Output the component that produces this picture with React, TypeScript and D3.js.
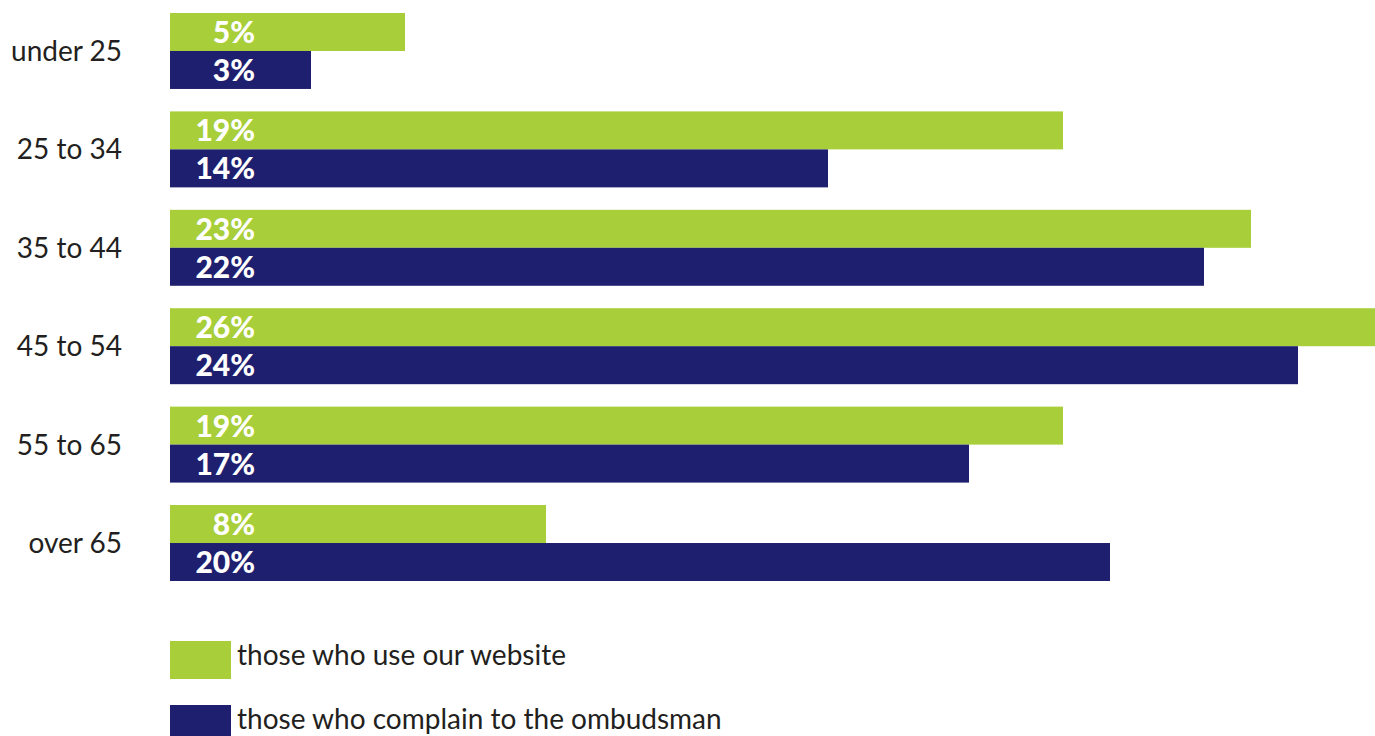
import React from "react";
import * as d3 from "d3";

const categories = ["under 25", "25 to 34", "35 to 44", "45 to 54", "55 to 65", "over 65"];
const websiteValues = [5, 19, 23, 26, 19, 8];
const ombudsmanValues = [3, 14, 22, 24, 17, 20];
const seriesNames = ["those who use our website", "those who complain to the ombudsman"];
const seriesColors = ["#a8ce39", "#1f1f6f"];

const W = 1375;
const H = 736;

export default function App() {
  const y = d3.scaleBand<string>().domain(categories).range([13, 581]).paddingInner(0.228).paddingOuter(0);
  const x = d3.scaleLinear().domain([0, 26]).range([170, 1392]);
  const bh = y.bandwidth() / 2;
  const font = "Lato, 'Open Sans', sans-serif";
  const series = [websiteValues, ombudsmanValues];

  return (
    <svg
      width={W}
      height={H}
      style={{ position: "absolute", left: 0, top: 0, background: "#fff" }}
    >
      {categories.map((c, i) => {
        const y0 = y(c)!;
        return (
          <g key={c}>
            <text
              x={122}
              y={y0 + bh + 10}
              textAnchor="end"
              fontFamily={font}
              fontSize={28}
              fill="#231f20"
            >
              {c}
            </text>
            {series.map((vals, s) => (
              <g key={s}>
                <rect
                  x={x(0)}
                  y={y0 + s * bh}
                  width={x(vals[i]) - x(0)}
                  height={bh}
                  fill={seriesColors[s]}
                />
                <text
                  x={255}
                  y={y0 + s * bh + bh / 2 + 11}
                  textAnchor="end"
                  fontFamily={font}
                  fontWeight={900}
                  fontSize={30}
                  fill="#fff"
                >
                  {vals[i]}%
                </text>
              </g>
            ))}
          </g>
        );
      })}
      {seriesNames.map((n, s) => {
        const ly = 641 + s * 64;
        return (
          <g key={n}>
            <rect x={170} y={ly} width={61} height={38} fill={seriesColors[s]} />
            <text x={237} y={ly + 24} fontFamily={font} fontSize={28} fill="#231f20">
              {n}
            </text>
          </g>
        );
      })}
    </svg>
  );
}
